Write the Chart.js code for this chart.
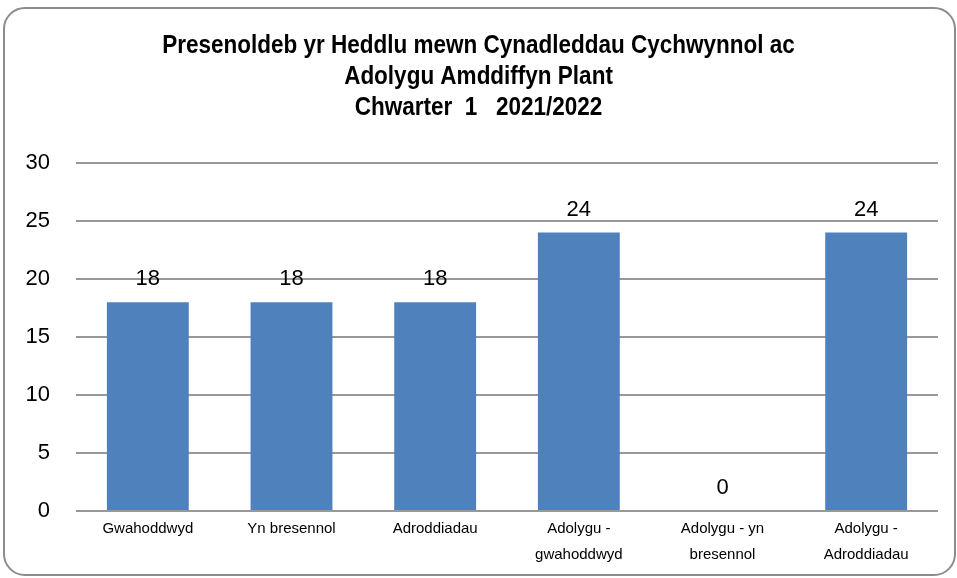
<!DOCTYPE html>
<html>
<head>
<meta charset="utf-8">
<script src="https://cdn.jsdelivr.net/npm/chart.js@4/dist/chart.umd.min.js"></script>
<style>
  html, body { margin: 0; padding: 0; background: #fff; }
  #wrap { position: absolute; left: 3px; top: 7px; width: 953px; height: 569px;
          border: 2.5px solid #8c8c8c; border-radius: 22px; box-sizing: border-box; }
  #holder { position: absolute; left: 0; top: 0; width: 957px; height: 578px; }
</style>
</head>
<body>
<div id="wrap"></div>
<div id="holder"><canvas id="chart"></canvas></div>
<script>
// --- DATA ---
const categories = [
    'Gwahoddwyd',
    'Yn bresennol',
    'Adroddiadau',
    ['Adolygu -', 'gwahoddwyd'],
    ['Adolygu - yn', 'bresennol'],
    ['Adolygu -', 'Adroddiadau']
];
const attendance = [18, 18, 18, 24, 0, 24];
const titleLines = [
    'Presenoldeb yr Heddlu mewn Cynadleddau Cychwynnol ac',
    'Adolygu Amddiffyn Plant',
    'Chwarter  1   2021/2022'
];
const yTicks = [0, 5, 10, 15, 20, 25, 30];

// --- narrow bold title, squeezed horizontally like Arial Narrow ---
const narrowTitle = {
    id: 'narrowTitle',
    afterDraw(chart) {
        const ctx = chart.ctx;
        const cx = chart.width / 2;
        const squeeze = 0.9;
        ctx.save();
        ctx.font = 'bold 25px "Liberation Sans", Arial, sans-serif';
        ctx.fillStyle = '#000';
        ctx.textAlign = 'center';
        ctx.textBaseline = 'middle';
        ctx.translate(cx, 0);
        ctx.scale(squeeze, 1);
        titleLines.forEach((line, i) => {
            ctx.fillText(line, 0, 46 + i * 31);
        });
        ctx.restore();
    }
};

// --- value labels above bars ---
const valueLabels = {
    id: 'valueLabels',
    afterDatasetsDraw(chart) {
        const ctx = chart.ctx;
        const meta = chart.getDatasetMeta(0);
        ctx.save();
        ctx.font = '22px "Liberation Sans", Arial, sans-serif';
        ctx.fillStyle = '#000';
        ctx.textAlign = 'center';
        ctx.textBaseline = 'middle';
        meta.data.forEach((bar, i) => {
            ctx.fillText(String(attendance[i]), bar.x, bar.y - 23);
        });
        ctx.restore();
    }
};

new Chart(document.getElementById('chart'), {
    type: 'bar',
    data: {
        labels: categories,
        datasets: [{
            data: attendance,
            backgroundColor: '#4f81bd',
            categoryPercentage: 1,
            barPercentage: 0.57
        }]
    },
    options: {
        responsive: true,
        maintainAspectRatio: false,
        animation: false,
        layout: { padding: { left: 20, right: 19, top: 163, bottom: 7 } },
        plugins: {
            legend: { display: false },
            tooltip: { enabled: false },
            title: { display: false }
        },
        scales: {
            x: {
                afterFit(scale) { scale.height = 60; },
                grid: { display: false },
                border: { display: false },
                ticks: {
                    color: '#000',
                    font: { family: '"Liberation Sans", Arial, sans-serif', size: 15, lineHeight: 1.73 },
                    maxRotation: 0,
                    autoSkip: false,
                    padding: -3
                }
            },
            y: {
                min: 0,
                max: 30,
                afterFit(scale) { scale.width = 56; },
                afterBuildTicks(scale) { scale.ticks = yTicks.map(v => ({ value: v })); },
                grid: { color: '#989898', lineWidth: 2, drawTicks: false },
                border: { display: false },
                ticks: {
                    color: '#000',
                    font: { family: '"Liberation Sans", Arial, sans-serif', size: 22 },
                    padding: 26
                }
            }
        }
    },
    plugins: [valueLabels, narrowTitle]
});
</script>
</body>
</html>
